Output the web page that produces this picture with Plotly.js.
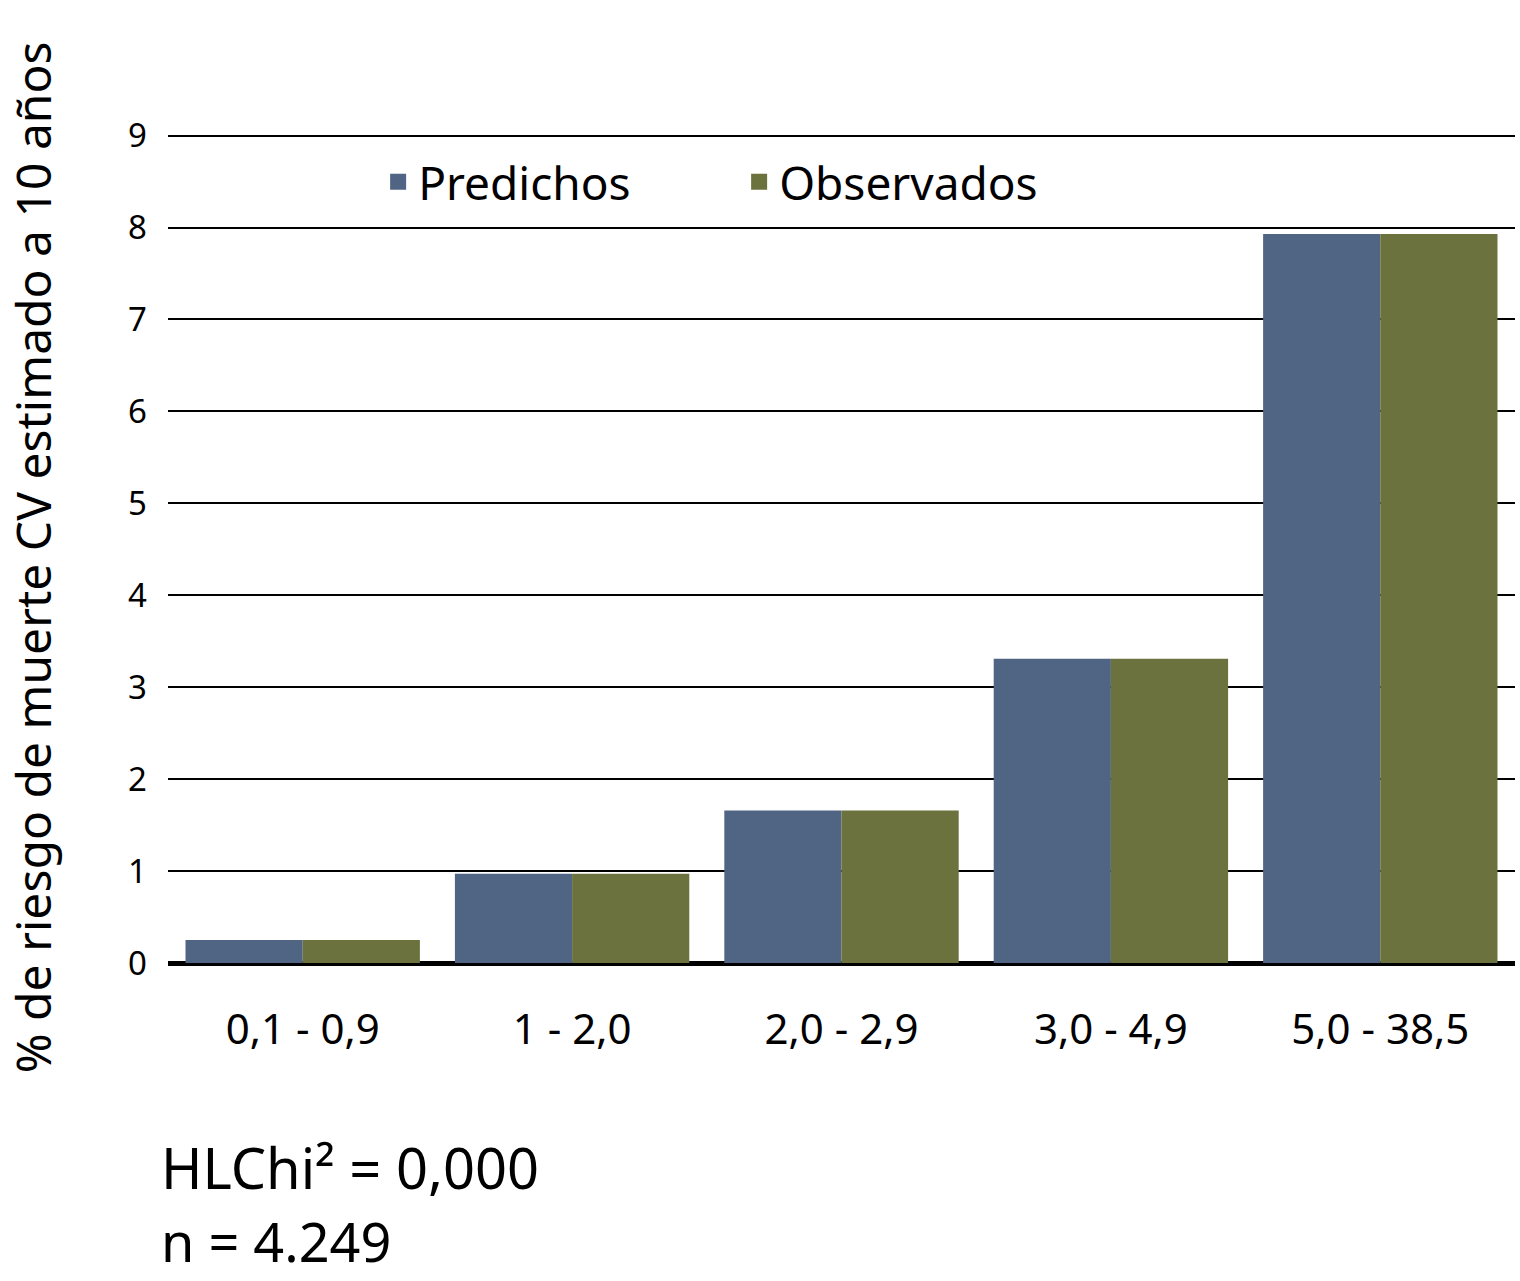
<!DOCTYPE html>
<html><head><meta charset="utf-8">
<script src="https://cdn.plot.ly/plotly-3.0.1.min.js"></script>
<style>body{margin:0;background:#fff}#c{width:1520px;height:1281px}</style>
</head><body><div id="c"></div>
<script>
const categories = ["0,1 - 0,9", "1 - 2,0", "2,0 - 2,9", "3,0 - 4,9", "5,0 - 38,5"];
const predichos = [0.25, 0.97, 1.66, 3.31, 7.93];
const observados = [0.25, 0.97, 1.66, 3.31, 7.93];
const yTicks = [0,1,2,3,4,5,6,7,8,9];
const colors = {Predichos:'#506483', Observados:'#6b723d'};

const font = "Noto Sans, Open Sans, sans-serif";
const data = [
  {type:'bar', name:'Predichos', x:categories, y:predichos, marker:{color:colors.Predichos}, showlegend:false},
  {type:'bar', name:'Observados', x:categories, y:observados, marker:{color:colors.Observados}, showlegend:false},
  {type:'scatter', mode:'markers', name:'Predichos', x:[null], y:[null], marker:{symbol:'square', size:24, color:colors.Predichos}},
  {type:'scatter', mode:'markers', name:'Observados', x:[null], y:[null], marker:{symbol:'square', size:24, color:colors.Observados}}
];
const layout = {
  width:1520, height:1281,
  margin:{l:168, r:5, t:131, b:318},
  paper_bgcolor:'#fff', plot_bgcolor:'#fff',
  barmode:'group', bargap:0.13, bargroupgap:0,
  font:{family:font, color:'#000'},
  showlegend:true,
  legend:{orientation:'h', x:0.156, y:0.939, xanchor:'left', yanchor:'middle',
          font:{size:46, family:font, color:'#000'}, bgcolor:'rgba(0,0,0,0)', itemwidth:30, entrywidth:316, traceorder:'normal'},
  xaxis:{type:'category', showgrid:false, showline:false, ticks:'', tickfont:{size:42, family:font}, ticklabelstandoff:38},
  yaxis:{range:[0,9.05], tickvals:yTicks, ticktext:yTicks.map(String), showgrid:true, gridcolor:'#000', gridwidth:1.5,
         zeroline:true, zerolinecolor:'#000', zerolinewidth:5, showline:false, ticks:'',
         tickfont:{size:33, family:font}, ticklabelstandoff:20,
         title:{text:''}},
  annotations:[
    {xref:'paper', yref:'paper', x:-0.1, y:0.488, text:'% de riesgo de muerte CV estimado a 10 años', textangle:-90,
     showarrow:false, xanchor:'center', yanchor:'middle', borderpad:0, font:{size:48, family:font, color:'#000'}},
    {xref:'paper', yref:'paper', x:-0.006, y:-0.245, text:'HLChi² = 0,000', showarrow:false, xanchor:'left', yanchor:'middle',
     borderpad:0, font:{size:56, family:font, color:'#000'}},
    {xref:'paper', yref:'paper', x:-0.006, y:-0.334, text:'n = 4.249', showarrow:false, xanchor:'left', yanchor:'middle',
     borderpad:0, font:{size:54, family:font, color:'#000'}}
  ]
};
Plotly.newPlot('c', data, layout, {displayModeBar:false});
</script></body></html>
